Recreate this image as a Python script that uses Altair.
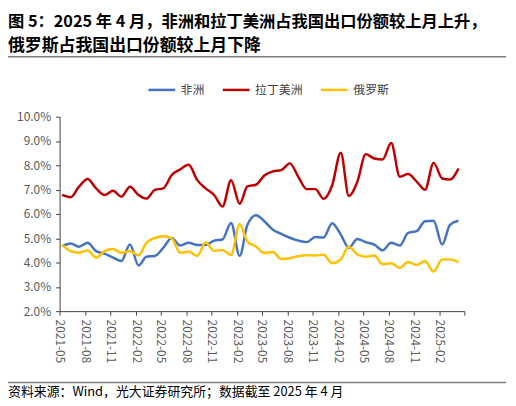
import altair as alt
import pandas as pd

months = [
    "2021-05","2021-06","2021-07","2021-08","2021-09","2021-10","2021-11","2021-12",
    "2022-01","2022-02","2022-03","2022-04","2022-05","2022-06","2022-07","2022-08",
    "2022-09","2022-10","2022-11","2022-12","2023-01","2023-02","2023-03","2023-04",
    "2023-05","2023-06","2023-07","2023-08","2023-09","2023-10","2023-11","2023-12",
    "2024-01","2024-02","2024-03","2024-04","2024-05","2024-06","2024-07","2024-08",
    "2024-09","2024-10","2024-11","2024-12","2025-01","2025-02","2025-03","2025-04",
]
africa = [4.67,4.78,4.65,4.81,4.47,4.37,4.20,4.06,4.74,3.88,4.24,4.27,4.60,5.01,4.70,4.81,
          4.72,4.72,4.90,4.95,5.63,4.27,5.55,5.95,5.70,5.35,5.18,5.02,4.90,4.84,5.05,5.03,
          5.62,5.15,4.61,4.97,4.84,4.74,4.50,4.81,4.70,5.22,5.29,5.70,5.72,4.74,5.55,5.72]
latam = [6.78,6.69,7.12,7.44,7.05,6.78,6.95,6.71,7.12,6.78,6.63,6.99,7.05,7.60,7.83,8.02,
         7.39,7.05,6.78,6.30,7.39,6.42,7.13,7.20,7.58,7.75,7.80,8.08,7.52,7.02,7.02,6.62,
         7.18,8.52,6.74,7.33,8.46,8.28,8.24,8.92,7.53,7.64,7.33,6.99,8.10,7.46,7.42,7.87]
russia = [4.74,4.47,4.40,4.50,4.20,4.47,4.56,4.40,4.47,4.29,4.81,5.01,5.08,4.99,4.40,4.45,
          4.27,4.82,4.48,4.52,4.31,5.58,4.86,4.66,4.39,4.43,4.15,4.18,4.26,4.30,4.29,4.32,
          3.97,4.13,4.65,4.33,4.24,4.29,3.93,3.97,3.78,4.02,3.90,4.06,3.63,4.13,4.13,4.02]

series_names = ["非洲", "拉丁美洲", "俄罗斯"]
series_colors = ["#4472C4", "#C00000", "#FFC000"]
tick_months = ["2021-05","2021-08","2021-11","2022-02","2022-05","2022-08","2022-11",
               "2023-02","2023-05","2023-08","2023-11","2024-02","2024-05","2024-08",
               "2024-11","2025-02","2025-05"]
y_ticks = [0.02, 0.03, 0.04, 0.05, 0.06, 0.07, 0.08, 0.09, 0.10]

title1 = "图 5：2025 年 4 月，非洲和拉丁美洲占我国出口份额较上月上升，"
title2 = "俄罗斯占我国出口份额较上月下降"
footer = "资料来源：Wind，光大证券研究所；数据截至 2025 年 4 月"

FONT = "Noto Sans CJK SC"

# whole canvas is the view; the plot occupies a sub-region via scale ranges
W, H = 504, 393
PX0, PX1 = 52, 460      # plot left/right inside the view
PY0, PY1 = 108, 304     # plot top/bottom inside the view

rows = []
for name, vals in zip(series_names, [africa, latam, russia]):
    for m, v in zip(months, vals):
        rows.append({"date": m + "-10T00:00:00", "series": name, "value": v / 100})
df = pd.DataFrame(rows)

tick_vals = [alt.DateTime(year=int(t[:4]), month=int(t[5:]), date=1) for t in tick_months]

lines = alt.Chart(df).mark_line(interpolate="monotone", strokeWidth=2.5).encode(
    x=alt.X("date:T",
            scale=alt.Scale(domain=[alt.DateTime(year=2021, month=5, date=1),
                                    alt.DateTime(year=2025, month=5, date=1)],
                            range=[PX0, PX1]),
            axis=alt.Axis(title=None, values=tick_vals, format="%Y-%m", labelAngle=90,
                          labelExpr="year(datum.value) == 2025 && month(datum.value) == 4 ? '' : datum.label",
                          labelFont=FONT, labelFontSize=12, labelColor="#595959",
                          domainColor="#404040", tickColor="#404040", tickSize=4,
                          labelPadding=4, grid=False, offset=-(H - PY1))),
    y=alt.Y("value:Q",
            scale=alt.Scale(domain=[0.02, 0.10], nice=False, range=[PY1, PY0]),
            axis=alt.Axis(title=None, format=".1%", values=y_ticks,
                          labelFont=FONT, labelFontSize=12, labelColor="#595959",
                          domainColor="#404040", tickColor="#404040", tickSize=4,
                          labelPadding=5, grid=False, offset=-PX0)),
    color=alt.Color("series:N",
                    scale=alt.Scale(domain=series_names, range=series_colors),
                    sort=series_names,
                    legend=alt.Legend(title=None, orient="none", direction="horizontal",
                                      legendX=140, legendY=66, symbolType="stroke",
                                      symbolSize=729, symbolStrokeWidth=2.5,
                                      labelFont=FONT, labelFontSize=12, labelColor="#404040",
                                      labelOffset=4, columnPadding=12)),
)

def text_layer(txt, x, y, size, weight="normal", color="#000000"):
    return alt.Chart(pd.DataFrame({"t": [txt]})).mark_text(
        align="left", baseline="middle", font=FONT, fontSize=size,
        fontWeight=weight, color=color
    ).encode(x=alt.value(x), y=alt.value(y), text="t:N")

def rule_layer(y):
    return alt.Chart(pd.DataFrame({"a": [0]})).mark_rule(
        color="#7F7F7F", strokeWidth=1.5
    ).encode(x=alt.value(0), x2=alt.value(502), y=alt.value(y))

chart = alt.layer(
    lines,
    text_layer(title1, 0, 12.5, 16.4, "bold"),
    text_layer(title2, 0, 37, 17, "bold"),
    rule_layer(47.5),
    rule_layer(376),
    text_layer(footer, 0, 385.5, 13, "normal", "#000000"),
).properties(
    width=W, height=H,
    autosize=alt.AutoSizeParams(type="none"),
    padding=0,
).configure_view(stroke=None)

chart.save("out.html", embed_options={"renderer": "svg", "actions": False})
